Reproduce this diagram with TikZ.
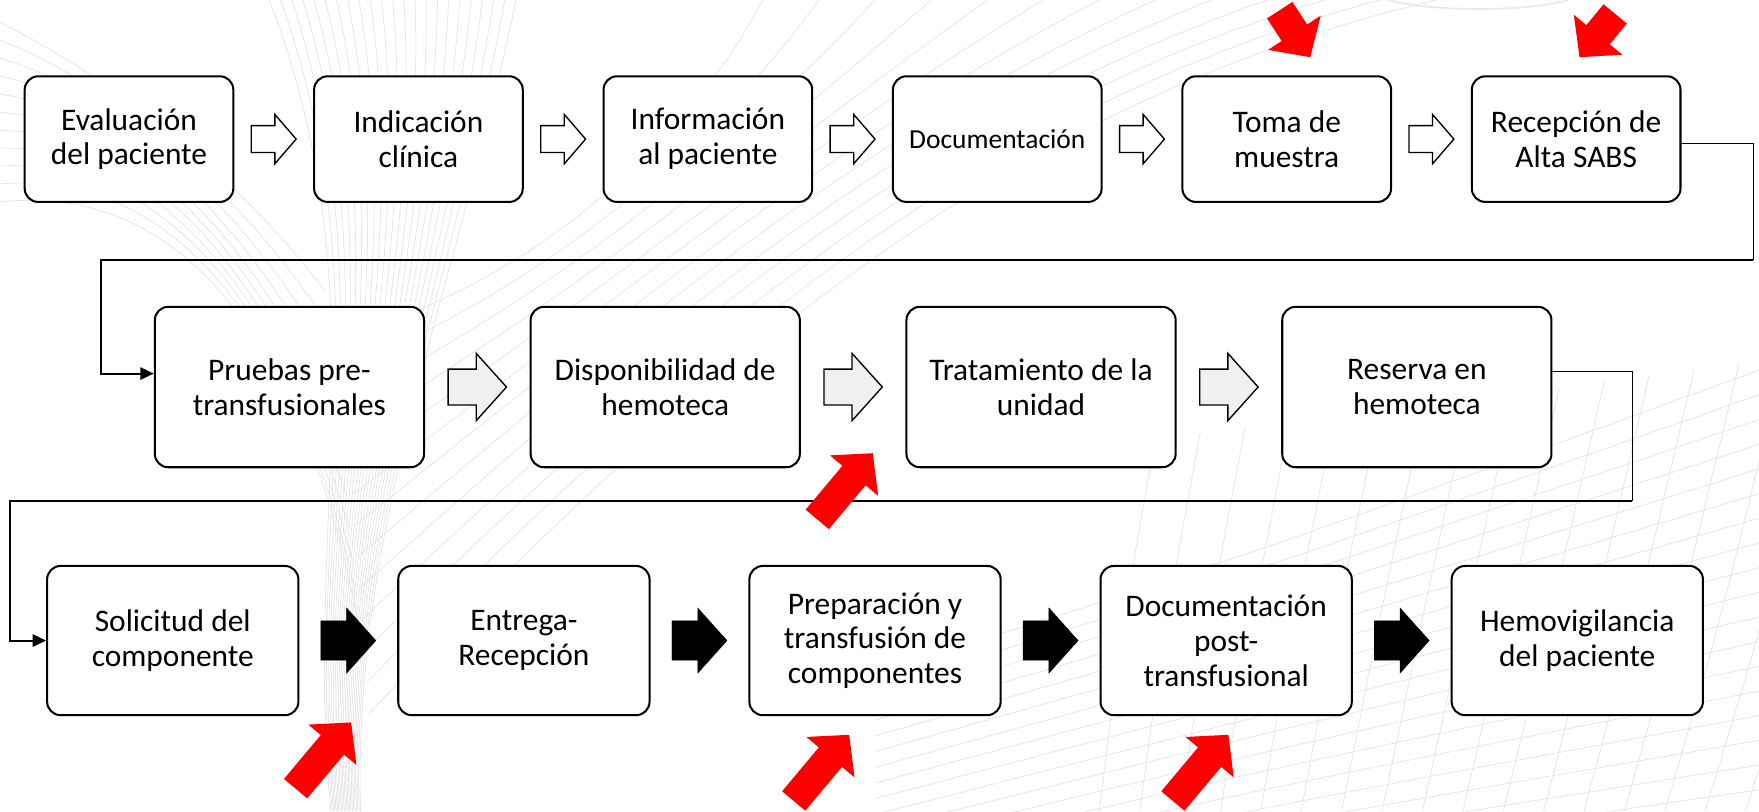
\documentclass[tikz,border=0pt]{standalone}
\usepackage{fontspec}
\setmainfont{Carlito}
\usetikzlibrary{calc,arrows.meta}
\definecolor{arrred}{HTML}{FF0000}
\definecolor{meshgray}{HTML}{DFDFDF}
\definecolor{glowblue}{HTML}{DDEEF2}
\tikzset{
  x=1pt, y=-1pt,
  pbox/.style={draw=black, line width=1.8pt, rounded corners=12pt, fill=white, align=center, inner sep=0pt, font=\fontsize{28}{31}\selectfont},
  rowa/.style={pbox, minimum width=186pt, minimum height=112pt},
  rowb/.style={pbox, minimum width=240pt, minimum height=143pt},
  rowc/.style={pbox, minimum width=224pt, minimum height=133pt, font=\fontsize{28}{31}\selectfont},
  warrow/.style={draw=black, line width=1.2pt, fill=white},
  garrow/.style={draw=black, line width=1.2pt, fill=gray!12},
  barrow/.style={fill=black},
  thinc/.style={line width=0.9pt},
  thickc/.style={line width=1.8pt},
  contip/.style={-{Triangle[length=12pt,width=11pt]}},
  mesh/.style={draw=meshgray, line width=0.5pt},
}
\newcommand\blockarr[7]{%
  \path ($(#1.east)!0.5!(#2.west)$) coordinate (#1-#2-m);
  \draw[#7] (#1-#2-m) ++({-(#3)/2},{-(#4)/2}) -- ++({(#3)-(#6)},0) -- ++(0,{-((#5)-(#4))/2}) -- ++({#6},{(#5)/2}) -- ++({-(#6)},{(#5)/2}) -- ++(0,{-((#5)-(#4))/2}) -- ++({-((#3)-(#6))},0) -- cycle;
}
\newcommand\redarr[4]{%
  \fill[arrred, shift={(#1,#2)}, rotate=#3] (0,0) -- (-26,-28) -- (-26,-13.5) -- ({-(#4)},-13.5) -- ({-(#4)},13.5) -- (-26,13.5) -- (-26,28) -- cycle;
}
\begin{document}
\begin{tikzpicture}
\useasboundingbox (0,0) rectangle (1568,723);
\fill[white] (0,0) rectangle (1568,723);
% faint background mesh
\begin{scope}
\clip (0,0) rectangle (1568,723);
\foreach \t in {0,...,22} {
  \draw[mesh] ({240+\t*10},0) .. controls ({340+\t*3},260) and ({270+\t*2},470) .. ({295+\t*1.2},723);
}
\foreach \t in {0,...,12} {
  \draw[mesh] ({305+\t*2},{300+\t*28}) .. controls ({450+\t*15},{260+\t*5}) and ({600+\t*25},{150-\t*5}) .. ({680+\t*50},0);
}
\foreach \t in {0,...,10} {
  \draw[mesh] (0,{20+\t*16}) .. controls ({80+\t*10},{60+\t*10}) and ({200+\t*8},{140+\t*20}) .. ({290+\t*3},{260+\t*30});
}
\foreach \t in {0,...,18} {
  \draw[mesh] ({780},{600+\t*14}) .. controls (1100,{500+\t*16}) .. (1568,{330+\t*22});
}
\foreach \t in {0,...,16} {
  \draw[mesh] ({980+\t*36},723) .. controls ({1000+\t*38},560) .. ({1030+\t*40},{390-\t*5});
}
\end{scope}
\draw[glowblue, line width=1.5pt] (1318,-8) ellipse (92 and 16);
% row 1
\node[rowa] (a1) at (115,124) {Evaluación\\del paciente};
\node[rowa] (a2) at (373,124) {Indicación\\clínica};
\node[rowa] (a3) at (631,124) {Información\\al paciente};
\node[rowa, font=\fontsize{24.5}{28}\selectfont] (a4) at (889,124) {Documentación};
\node[rowa] (a5) at (1147,124) {Toma de\\muestra};
\node[rowa] (a6) at (1405,124) {Recepción de\\Alta SABS};
% row 2
\node[rowb] (b1) at (258,345) {Pruebas pre-\\transfusionales};
\node[rowb] (b2) at (593,345) {Disponibilidad de\\hemoteca};
\node[rowb] (b3) at (928,345) {Tratamiento de la\\unidad};
\node[rowb] (b4) at (1263,345) {Reserva en\\hemoteca};
% row 3
\node[rowc] (c1) at (154,571) {Solicitud del\\componente};
\node[rowc] (c2) at (467,571) {Entrega-\\Recepción};
\node[rowc] (c3) at (780,571) {Preparación y\\transfusión de\\componentes};
\node[rowc] (c4) at (1093,571) {Documentación\\post-\\transfusional};
\node[rowc] (c5) at (1406,571) {Hemovigilancia\\del paciente};
% block arrows
\blockarr{a1}{a2}{40}{24}{44}{19}{warrow}
\blockarr{a2}{a3}{40}{24}{44}{19}{warrow}
\blockarr{a3}{a4}{40}{24}{44}{19}{warrow}
\blockarr{a4}{a5}{40}{24}{44}{19}{warrow}
\blockarr{a5}{a6}{40}{24}{44}{19}{warrow}
\blockarr{b1}{b2}{52}{32}{60}{27}{garrow}
\blockarr{b2}{b3}{52}{32}{60}{27}{garrow}
\blockarr{b3}{b4}{52}{32}{60}{27}{garrow}
\blockarr{c1}{c2}{49}{35}{58}{26}{barrow}
\blockarr{c2}{c3}{49}{35}{58}{26}{barrow}
\blockarr{c3}{c4}{49}{35}{58}{26}{barrow}
\blockarr{c4}{c5}{49}{35}{58}{26}{barrow}
% connectors
\coordinate (k1) at (1563,232);
\coordinate (k2) at (90,232);
\draw[thinc] ([yshift=-4pt]a6.east) -| (k1);
\draw[thickc, contip] (k1) -- (k2) |- ([yshift=12pt]b1.west);
\coordinate (k3) at (1455,447);
\coordinate (k4) at (9,447);
\draw[thinc] ([yshift=14pt]b4.east) -| (k3);
\draw[thickc, contip] (k3) -- (k4) |- (c1.west);
% red arrows
\redarr{1168}{51}{-57}{50}
\redarr{1408}{51}{-129.5}{50}
\redarr{778}{404}{50}{77}
\redarr{313}{644}{50}{77}
\redarr{757}{655}{50}{77}
\redarr{1095}{655}{50}{77}
\end{tikzpicture}
\end{document}
